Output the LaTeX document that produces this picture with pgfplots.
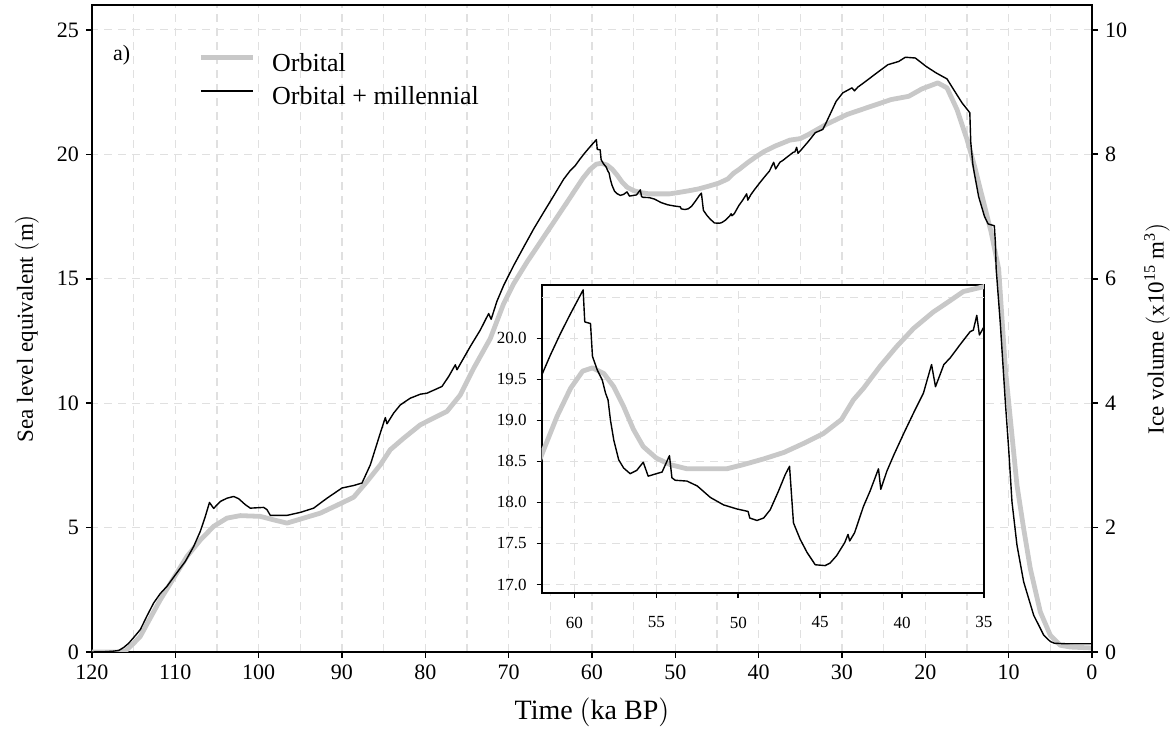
\documentclass[border=0pt]{standalone}
\usepackage{fontspec}
\setmainfont{Liberation Serif}
\usepackage{pgfplots}
\pgfplotsset{compat=1.18}
\usepackage{pgfplotstable}
\definecolor{orbgray}{RGB}{200,200,200}
\definecolor{gridgray}{RGB}{224,224,224}

\pgfplotstableread{
t v
120.0 0.00
117.0 0.00
116.0 0.03
115.8 0.10
115.0 0.35
114.2 0.63
113.0 1.37
111.8 2.10
110.2 2.97
108.6 3.84
107.0 4.50
105.4 5.05
103.8 5.38
102.2 5.48
99.8 5.45
98.2 5.31
96.6 5.18
95.0 5.34
92.6 5.58
90.2 5.96
88.6 6.22
87.0 6.85
85.4 7.52
84.2 8.13
82.6 8.59
80.6 9.13
79.0 9.40
77.4 9.67
75.8 10.33
74.2 11.40
72.2 12.60
70.6 14.00
69.4 14.80
67.8 15.67
66.2 16.47
64.6 17.27
63.0 18.07
62.0 18.58
61.06 19.05
60.24 19.39
59.5 19.60
58.9 19.64
58.2 19.57
57.6 19.41
57.0 19.17
56.4 18.89
55.8 18.68
55.0 18.54
54.15 18.46
53.13 18.41
51.9 18.41
50.7 18.41
49.7 18.46
48.45 18.53
47.2 18.61
46.0 18.72
44.8 18.84
43.7 19.01
42.97 19.25
42.36 19.39
41.34 19.66
40.33 19.90
39.3 20.12
38.1 20.32
37.28 20.43
36.26 20.57
35.0 20.63
34.0 20.80
31.9 21.20
29.4 21.60
26.5 21.93
24.1 22.20
22.0 22.33
20.4 22.63
18.5 22.87
17.4 22.67
16.2 21.80
15.0 20.60
14.1 19.53
12.9 17.93
12.1 16.87
11.2 15.40
10.4 11.40
9.6 8.70
9.0 6.70
8.2 4.96
7.4 3.35
6.2 1.61
5.0 0.67
3.8 0.27
2.6 0.20
0.0 0.16
}\orbital

\pgfplotstableread{
t v
120.0 0.00
118.5 0.01
117.5 0.03
116.8 0.06
116.2 0.18
115.6 0.35
115.0 0.58
114.2 0.90
113.4 1.45
112.6 1.97
111.8 2.35
111.0 2.64
110.0 3.10
108.8 3.64
107.8 4.24
107.0 4.85
106.4 5.45
105.9 6.01
105.4 5.77
104.6 6.05
103.8 6.18
103.0 6.25
102.4 6.16
101.6 5.92
101.0 5.78
100.0 5.80
99.4 5.81
99.0 5.72
98.6 5.49
96.6 5.49
95.0 5.61
93.4 5.78
91.8 6.18
90.0 6.59
88.6 6.69
87.6 6.79
86.6 7.52
85.4 8.80
84.8 9.42
84.6 9.17
83.8 9.60
83.0 9.93
81.8 10.20
80.6 10.36
79.8 10.40
78.0 10.67
77.2 11.07
76.4 11.54
76.2 11.34
74.6 12.28
73.4 12.94
72.4 13.60
72.1 13.37
71.4 14.10
70.6 14.73
69.4 15.53
68.2 16.27
67.0 17.00
65.8 17.67
64.6 18.33
63.4 19.00
62.6 19.35
62.0 19.55
61.46 19.80
60.85 20.06
60.24 20.30
59.47 20.59
59.37 20.20
59.02 20.18
58.9 19.78
58.6 19.61
58.3 19.49
58.1 19.33
57.95 19.25
57.8 19.00
57.6 18.76
57.3 18.52
57.0 18.42
56.6 18.35
56.2 18.39
55.8 18.49
55.5 18.32
55.0 18.35
54.65 18.37
54.2 18.57
54.05 18.30
53.85 18.27
53.13 18.26
52.5 18.20
51.7 18.06
50.9 17.97
50.08 17.92
49.4 17.89
49.3 17.81
48.86 17.78
48.45 17.81
48.05 17.91
47.54 18.14
47.13 18.34
46.87 18.44
46.63 17.75
46.22 17.55
45.8 17.39
45.3 17.24
44.7 17.23
44.4 17.26
44.0 17.35
43.5 17.51
43.3 17.61
43.2 17.53
42.9 17.63
42.36 17.95
41.95 18.14
41.44 18.41
41.3 18.16
40.93 18.38
40.5 18.58
39.9 18.84
39.3 19.09
38.7 19.33
38.2 19.68
37.96 19.41
37.45 19.68
37.07 19.76
36.47 19.92
35.85 20.08
35.65 20.10
35.44 20.28
35.28 20.04
35.0 20.14
34.0 20.53
33.2 20.87
32.3 21.00
31.9 21.27
30.7 22.13
29.9 22.47
28.8 22.67
28.5 22.55
28.1 22.70
27.4 22.87
26.1 23.20
24.5 23.60
23.2 23.73
22.4 23.90
21.2 23.87
19.9 23.53
18.7 23.27
17.4 23.03
16.6 22.60
15.6 22.07
14.66 21.67
14.55 20.50
14.3 19.60
14.1 19.20
13.6 18.30
12.9 17.50
12.46 17.20
11.72 17.13
11.6 16.50
11.5 15.40
11.0 13.20
10.4 10.05
10.0 8.17
9.6 6.03
9.0 4.29
8.2 2.82
7.0 1.48
5.8 0.68
5.0 0.42
4.5 0.35
3.0 0.33
0.0 0.33
}\millen

\begin{document}
\begin{tikzpicture}
\useasboundingbox (-46pt,-40pt) rectangle (541pt,326pt);
\begin{axis}[
  at={(0pt,0pt)}, anchor=south west,
  scale only axis, width=500pt, height=323.5pt,
  x dir=reverse, xmin=0, xmax=120, ymin=0, ymax=26,
  xtick={0,10,...,120}, minor xtick={5,15,...,115},
  ytick={0,5,...,25},
  xtick pos=left, ytick pos=left,
  tick align=outside,
  major tick length=3pt, minor tick length=0pt,
  grid=both,
  major grid style={gridgray, dash pattern=on 4pt off 3pt, line width=0.55pt},
  minor grid style={gridgray, dash pattern=on 4pt off 3pt, line width=0.55pt},
  axis line style={line width=0.9pt},
  tick style={line width=0.8pt, black},
  ticklabel style={font=\fontsize{11}{13}\selectfont},
  /pgf/number format/assume math mode=true,
  xlabel={Time $\big($ka BP$\big)$},
  xlabel style={font=\fontsize{14}{16}\selectfont, at={(axis description cs:0.5,-0.093)}, anchor=center},
  ylabel={Sea level equivalent $\big($m$\big)$},
  ylabel style={font=\fontsize{11.5}{13}\selectfont, at={(axis description cs:-0.065,0.5)}, anchor=center},
  legend style={at={(0.106,0.929)}, anchor=north west, draw=none, fill=none,
    font=\fontsize{13}{15}\selectfont, inner sep=0pt, row sep=3pt,
    nodes={inner sep=1pt, text height=9pt, text depth=2.5pt},
    /tikz/every odd column/.append style={column sep=7.5pt}},
  legend cell align=left,
  legend image code/.code={\draw[#1] (0pt,3.5pt) -- (26pt,3.5pt);},
]
\addplot[orbgray, line width=2.4pt, line join=round] table[x=t,y=v] {\orbital};
\addlegendentry{Orbital}
\addplot[black, line width=0.7pt, line join=round] table[x=t,y=v] {\millen};
\addlegendentry{Orbital + millennial}
\node[anchor=west, font=\fontsize{11}{13}\selectfont] at (axis cs:118.3,24) {a)};
\end{axis}
\begin{axis}[
  at={(0pt,0pt)}, anchor=south west,
  scale only axis, width=500pt, height=323.5pt,
  xmin=0, xmax=120, ymin=0, ymax=10.4,
  axis x line=none, axis y line*=right,
  axis line style={-, line width=0.9pt},
  ytick={0,2,...,10},
  tick align=outside, major tick length=3pt,
  tick style={line width=0.8pt, black},
  ticklabel style={font=\fontsize{11}{13}\selectfont},
  /pgf/number format/assume math mode=true,
  ylabel={Ice volume $\big($x10\textsuperscript{15} m\textsuperscript{3}$\big)$},
  ylabel style={font=\fontsize{11.5}{13}\selectfont, at={(axis description cs:1.065,0.5)}, anchor=center},
]
\addplot[draw=none] coordinates {(60,5)};
\end{axis}
\begin{axis}[
  at={(224.85pt,29.65pt)}, anchor=south west,
  scale only axis, width=221.15pt, height=153.85pt,
  x dir=reverse, xmin=35, xmax=62, ymin=16.9, ymax=20.65,
  axis background/.style={fill=white},
  xtick={35,40,...,60}, ytick={17,17.5,...,20},
  extra y ticks={20.5}, extra y tick labels={},
  extra y tick style={major tick length=0pt},
  xtick pos=left, ytick pos=left, tick align=outside,
  major tick length=2.5pt,
  grid=major,
  major grid style={gridgray, dash pattern=on 4pt off 3pt, line width=0.55pt},
  axis line style={line width=0.9pt},
  tick style={line width=0.8pt, black},
  ticklabel style={font=\fontsize{8.5}{10}\selectfont},
  xticklabel style={yshift=-6pt},
  yticklabel style={xshift=-1.5pt, /pgf/number format/fixed, /pgf/number format/fixed zerofill, /pgf/number format/precision=1},
  /pgf/number format/assume math mode=true,
]
\addplot[orbgray, line width=2.4pt, line join=round] table[x=t,y=v] {\orbital};
\addplot[black, line width=0.7pt, line join=round] table[x=t,y=v] {\millen};
\end{axis}
\end{tikzpicture}
\end{document}
